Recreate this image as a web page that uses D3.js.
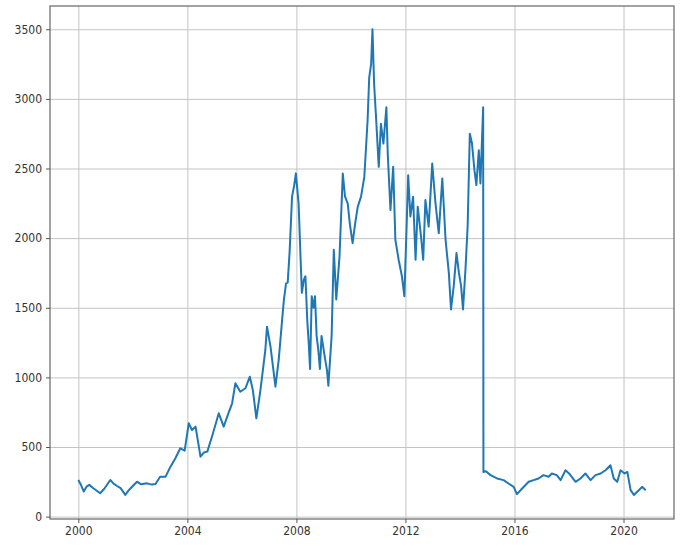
<!DOCTYPE html>
<html>
<head>
<meta charset="utf-8">
<script src="https://cdn.jsdelivr.net/npm/d3@7"></script>
<style>
  body { margin: 0; background: #fff; }
  .tick text { font-family: "DejaVu Sans Condensed", "DejaVu Sans", sans-serif; font-size: 12px; fill: #333; }
</style>
</head>
<body>
<svg id="chart" width="682" height="549"></svg>
<script>
// decimal years and prices
const years = [
  2000.00, 2000.08, 2000.20, 2000.30, 2000.40, 2000.55, 2000.80, 2000.95, 2001.17, 2001.30,
  2001.42, 2001.55, 2001.72, 2001.85, 2001.97, 2002.15, 2002.30, 2002.52, 2002.70, 2002.83,
  2003.00, 2003.20, 2003.38, 2003.56, 2003.74, 2003.90, 2004.05, 2004.17, 2004.30, 2004.40,
  2004.48, 2004.60, 2004.73, 2004.90, 2005.15, 2005.33, 2005.50, 2005.64, 2005.76, 2005.94,
  2006.13, 2006.29, 2006.40, 2006.53, 2006.68, 2006.86, 2006.92, 2007.05, 2007.23, 2007.35,
  2007.47, 2007.54, 2007.62, 2007.68, 2007.75, 2007.84, 2007.92, 2007.98, 2008.08, 2008.15,
  2008.20, 2008.27, 2008.33, 2008.40, 2008.45, 2008.50, 2008.56, 2008.63, 2008.68, 2008.74,
  2008.80, 2008.86, 2008.92, 2009.05, 2009.12, 2009.17, 2009.29, 2009.37, 2009.46, 2009.58,
  2009.70, 2009.78, 2009.88, 2009.96, 2010.06, 2010.15, 2010.25, 2010.37, 2010.49, 2010.61,
  2010.67, 2010.74, 2010.79, 2010.85, 2010.92, 2011.02, 2011.10, 2011.19, 2011.30, 2011.35,
  2011.45, 2011.55, 2011.63, 2011.75, 2011.87, 2011.96, 2012.05, 2012.10, 2012.18, 2012.28,
  2012.37, 2012.45, 2012.57, 2012.65, 2012.73, 2012.85, 2012.98, 2013.10, 2013.22, 2013.35,
  2013.47, 2013.59, 2013.67, 2013.77, 2013.87, 2013.96, 2014.04, 2014.11, 2014.20, 2014.28,
  2014.36, 2014.44, 2014.53, 2014.60, 2014.69, 2014.75, 2014.85, 2014.86, 2014.95, 2015.12,
  2015.36, 2015.60, 2015.78, 2015.97, 2016.09, 2016.28, 2016.52, 2016.70, 2016.88, 2017.06,
  2017.25, 2017.37, 2017.55, 2017.69, 2017.87, 2018.00, 2018.24, 2018.42, 2018.60, 2018.79,
  2018.97, 2019.16, 2019.34, 2019.52, 2019.64, 2019.77, 2019.89, 2020.04, 2020.14, 2020.26,
  2020.38, 2020.56, 2020.68, 2020.81
];
const prices = [
  263, 235, 180, 215, 228, 204, 168, 200, 263, 235,
  220, 205, 156, 190, 215, 251, 232, 239, 230, 234,
  287, 287, 359, 419, 491, 474, 670, 622, 646, 527,
  431, 460, 467, 574, 742, 646, 740, 814, 958, 897,
  922, 1005, 910, 706, 910, 1197, 1364, 1220, 933, 1125,
  1400, 1556, 1675, 1680, 1900, 2298, 2380, 2465, 2250, 1869,
  1607, 1700, 1726, 1400, 1250, 1060, 1583, 1500, 1583, 1298,
  1200, 1060, 1298, 1131, 1050, 940, 1298, 1917, 1560, 1869,
  2464, 2300, 2250, 2100, 1964, 2100, 2226, 2298, 2440, 2845,
  3155, 3250, 3500, 3107, 2869, 2512, 2821, 2679, 2940, 2607,
  2202, 2512, 1988, 1845, 1726, 1583, 2131, 2452, 2155, 2298,
  1845, 2226, 2012, 1845, 2274, 2083, 2536, 2250, 2036, 2429,
  1988, 1750, 1488, 1655, 1893, 1750, 1655, 1488, 1774, 2083,
  2750, 2679, 2488, 2381, 2631, 2393, 2940, 321, 326, 298,
  274, 262, 238, 214, 162, 202, 250, 262, 274, 298,
  286, 310, 298, 262, 333, 310, 250, 274, 310, 262,
  298, 310, 333, 369, 274, 250, 333, 310, 321, 190,
  155, 190, 214, 190
];
const yTicks = [0, 500, 1000, 1500, 2000, 2500, 3000, 3500];

const margin = {left: 50, right: 8, top: 6, bottom: 30};
const width = 682, height = 549;
const drawWidth = width - margin.left - margin.right;
const drawHeight = height - margin.top - margin.bottom;

// decimal year -> Date
const toDate = (y) => {
    const yr = Math.floor(y);
    const start = new Date(yr, 0, 1), end = new Date(yr + 1, 0, 1);
    return new Date(+start + (y - yr) * (end - start));
};
const data = years.map((y, i) => ({x: toDate(y), y: prices[i]}));

const xScale = d3.scaleTime()
    .domain([toDate(1998.96), toDate(2021.85)])
    .range([0, drawWidth]);
const yScale = d3.scaleLinear()
    .domain([-17, 3667])
    .range([drawHeight, 0]);

const svg = d3.select("#chart");
const g = svg.append("g")
    .attr("transform", `translate(${margin.left},${margin.top})`);

// grid
g.append("g")
    .call(d3.axisBottom(xScale).ticks(d3.timeYear.every(4)).tickSize(drawHeight).tickFormat(""))
    .call(s => s.select(".domain").remove())
    .selectAll("line").attr("stroke", "#c4c4c4").attr("stroke-width", 1);
g.append("g")
    .call(d3.axisLeft(yScale).tickValues(yTicks).tickSize(-drawWidth).tickFormat(""))
    .call(s => s.select(".domain").remove())
    .selectAll("line").attr("stroke", "#c4c4c4").attr("stroke-width", 1);

// line
const line = d3.line()
    .x(d => xScale(d.x))
    .y(d => yScale(d.y));
g.append("path")
    .datum(data)
    .attr("fill", "none")
    .attr("stroke", "#1f77b4")
    .attr("stroke-width", 2)
    .attr("stroke-linejoin", "round")
    .attr("d", line);

// frame
g.append("rect")
    .attr("width", drawWidth)
    .attr("height", drawHeight)
    .attr("fill", "none")
    .attr("stroke", "#666")
    .attr("stroke-width", 1.2);

// axes
const xAxis = g.append("g")
    .attr("transform", `translate(0,${drawHeight})`)
    .call(d3.axisBottom(xScale).ticks(d3.timeYear.every(4)).tickFormat(d3.timeFormat("%Y")).tickSize(4).tickPadding(3));
const yAxis = g.append("g")
    .call(d3.axisLeft(yScale).tickValues(yTicks).tickFormat(d3.format("d")).tickSize(4).tickPadding(4));
[xAxis, yAxis].forEach(a => {
    a.select(".domain").remove();
    a.selectAll(".tick line").attr("stroke", "#555");
});
</script>
</body>
</html>
